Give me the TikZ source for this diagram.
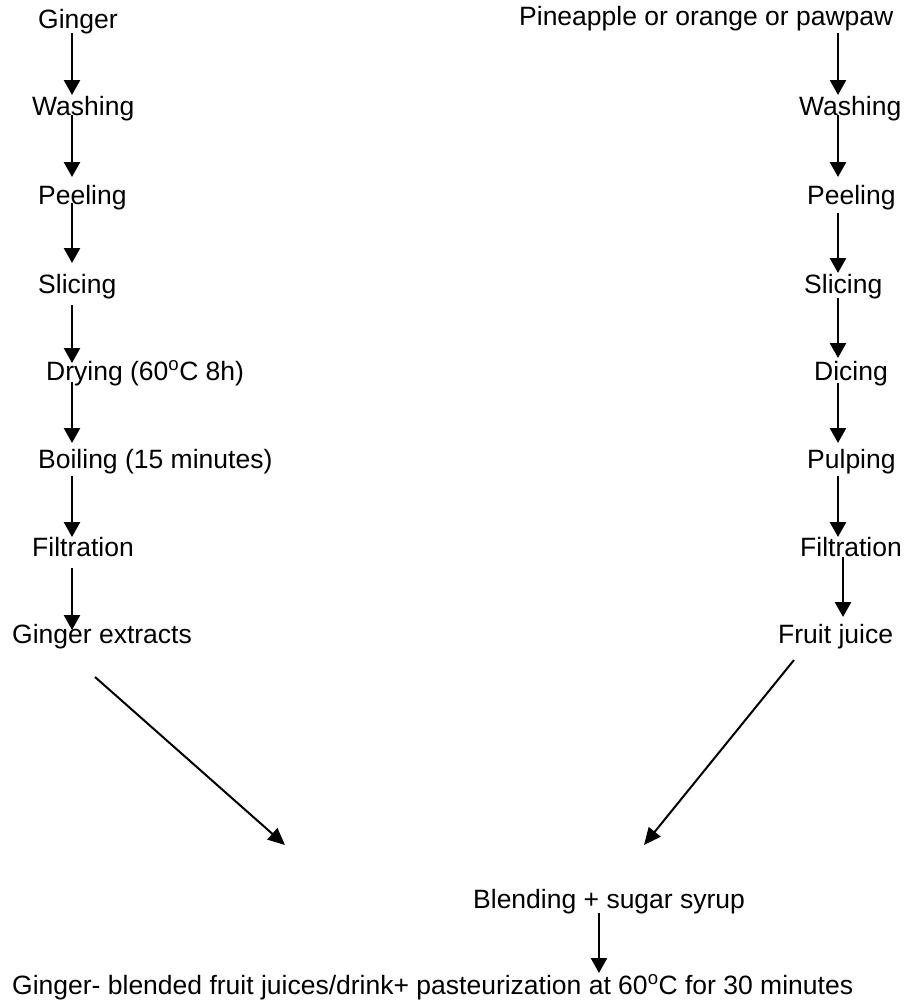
\documentclass[tikz,border=0pt]{standalone}
\usepackage{fontspec}
\setmainfont{Liberation Sans}
\usetikzlibrary{arrows.meta}
\begin{document}
\begin{tikzpicture}[x=1pt,y=-1pt,
  lbl/.style={anchor=base west,inner sep=0pt,font=\fontsize{26.5}{30}\selectfont},
  varr/.style={line width=2.6pt,-{Triangle[width=16pt,length=15pt]}},
  darr/.style={line width=2pt,-{Triangle[width=15pt,length=17pt]}}]
\useasboundingbox (0,0) rectangle (904,1001);
% left column
\node[lbl] (g0) at (38,28) {Ginger};
\node[lbl] (g1) at (32,115) {Washing};
\node[lbl] (g2) at (38,204) {Peeling};
\node[lbl] (g3) at (38,293) {Slicing};
\node[lbl] (g4) at (46,380) {Drying (60\textsuperscript{o}C 8h)};
\node[lbl] (g5) at (38,468) {Boiling (15 minutes)};
\node[lbl] (g6) at (32,556) {Filtration};
\node[lbl] (g7) at (12,643) {Ginger extracts};
% right column
\node[lbl] (f0) at (519,25) {Pineapple or orange or pawpaw};
\node[lbl] (f1) at (799,115) {Washing};
\node[lbl] (f2) at (807,204) {Peeling};
\node[lbl] (f3) at (804,293) {Slicing};
\node[lbl] (f4) at (814,380) {Dicing};
\node[lbl] (f5) at (807,468) {Pulping};
\node[lbl] (f6) at (800,556) {Filtration};
\node[lbl] (f7) at (778,643) {Fruit juice};
% bottom
\node[lbl] (bl) at (473,908) {Blending + sugar syrup};
\node[lbl] (fin) at (12,994) {Ginger- blended fruit juices/drink+ pasteurization at 60\textsuperscript{o}C for 30 minutes};
% arrow end points
\coordinate (ga1) at (72,33);  \coordinate (gb1) at (72,95);
\coordinate (ga2) at (72,115); \coordinate (gb2) at (72,177);
\coordinate (ga3) at (72,203); \coordinate (gb3) at (72,263);
\coordinate (ga4) at (72,305); \coordinate (gb4) at (72,363);
\coordinate (ga5) at (72,382); \coordinate (gb5) at (72,443);
\coordinate (ga6) at (72,476); \coordinate (gb6) at (72,537);
\coordinate (ga7) at (72,568); \coordinate (gb7) at (72,630);
\coordinate (fa1) at (838,33);  \coordinate (fb1) at (838,95);
\coordinate (fa2) at (838,115); \coordinate (fb2) at (838,177);
\coordinate (fa3) at (838,213); \coordinate (fb3) at (838,273);
\coordinate (fa4) at (838,298); \coordinate (fb4) at (838,358);
\coordinate (fa5) at (838,383); \coordinate (fb5) at (838,443);
\coordinate (fa6) at (838,476); \coordinate (fb6) at (838,537);
\coordinate (fa7) at (843,557); \coordinate (fb7) at (843,617);
\coordinate (gd) at (95,677);  \coordinate (gdt) at (285,845);
\coordinate (fd) at (794,660); \coordinate (fdt) at (644,845);
\coordinate (ba) at (599,913); \coordinate (bb) at (599,973);
\foreach \i in {1,...,7}{
  \draw[varr] (ga\i) -- (gb\i);
  \draw[varr] (fa\i) -- (fb\i);
}
\draw[darr] (gd) -- (gdt);
\draw[darr] (fd) -- (fdt);
\draw[varr] (ba) -- (bb);
\end{tikzpicture}
\end{document}
